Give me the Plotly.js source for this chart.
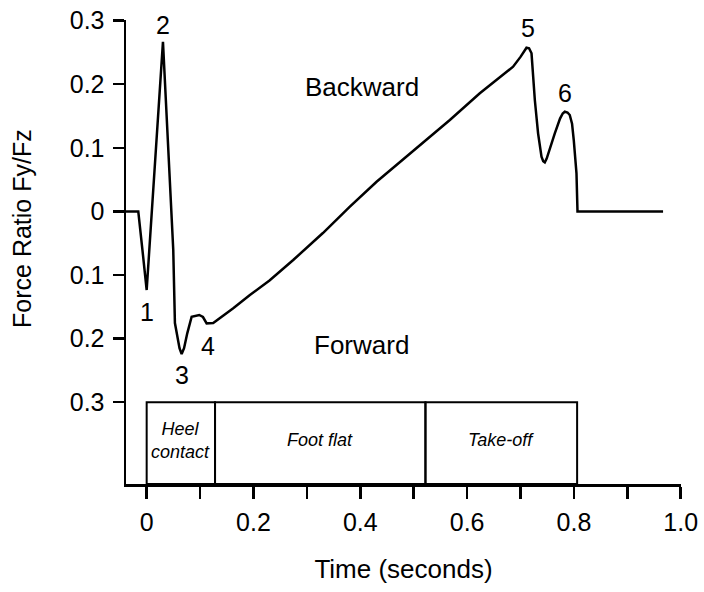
<!DOCTYPE html>
<html>
<head>
<meta charset="utf-8">
<script src="https://cdn.plot.ly/plotly-3.0.1.min.js"></script>
<style>html,body{margin:0;padding:0;background:#fff;}#chart{width:704px;height:592px;}</style>
</head>
<body>
<div id="chart"></div>
<script>
// Force ratio curve (time in s, Fy/Fz; positive = backward)
const timeS = [-0.039, -0.0157, -0.008, 0.0, 0.0305, 0.0498, 0.0529, 0.0573, 0.0615, 0.0655, 0.070, 0.076, 0.0842, 0.0984, 0.1054, 0.1123, 0.1246, 0.1621, 0.1933, 0.2300, 0.2744, 0.3300, 0.3805, 0.4305, 0.4866, 0.5677, 0.6238, 0.6861, 0.700, 0.7065, 0.7112, 0.716, 0.7206, 0.7268, 0.7329, 0.7393, 0.7425, 0.7455, 0.749, 0.7642, 0.774, 0.779, 0.7829, 0.788, 0.7922, 0.7965, 0.7997, 0.8048, 0.8067, 0.9669];
const forceRatio = [0.0, 0.0, -0.06, -0.1236, 0.2668, -0.0607, -0.1755, -0.197, -0.215, -0.2242, -0.215, -0.1917, -0.1656, -0.1629, -0.166, -0.176, -0.1755, -0.1524, -0.1314, -0.1085, -0.0764, -0.034, 0.0074, 0.0467, 0.086, 0.1437, 0.1857, 0.2275, 0.243, 0.2525, 0.2574, 0.2565, 0.2486, 0.1752, 0.1228, 0.086, 0.079, 0.0772, 0.083, 0.1228, 0.146, 0.154, 0.1568, 0.1555, 0.1516, 0.138, 0.1123, 0.0599, 0.0, 0.0];

// Numbered events
const eventLabels = ["1", "2", "3", "4", "5", "6"];
const eventTime = [0.0, 0.0305, 0.0655, 0.1153, 0.714, 0.783];
const eventRatio = [-0.158, 0.293, -0.257, -0.2116, 0.288, 0.1857];

// Gait phases
const phaseNames = ["Heel<br>contact", "Foot flat", "Take-off"];
const phaseStart = [0.0, 0.128, 0.522];
const phaseEnd = [0.128, 0.522, 0.806];

// Axis ticks
const yTickVals = [0.3, 0.2, 0.1, 0, -0.1, -0.2, -0.3];
const yTickText = ["0.3", "0.2", "0.1", "0", "0.1", "0.2", "0.3"];
const xTickVals = [0, 0.2, 0.4, 0.6, 0.8, 1.0];
const xTickText = ["0", "0.2", "0.4", "0.6", "0.8", "1.0"];

const FONT = "Liberation Sans, Arial, Helvetica, sans-serif";
const yMin = -0.4286, yMax = 0.301;
const xMin = -0.0387, xMax = 1.0005;

const shapes = phaseNames.map((n, i) => ({
  type: "rect", xref: "x", yref: "y",
  x0: phaseStart[i], x1: phaseEnd[i], y0: yMin, y1: -0.3,
  line: {color: "#000", width: 2}, fillcolor: "rgba(0,0,0,0)", layer: "above"
}));

const annotations = [];
eventLabels.forEach((l, i) => annotations.push({
  x: eventTime[i], y: eventRatio[i], xref: "x", yref: "y", text: l,
  showarrow: false, font: {family: FONT, size: 25, color: "#000"}
}));
phaseNames.forEach((n, i) => annotations.push({
  x: (phaseStart[i] + phaseEnd[i]) / 2, y: -0.36, xref: "x", yref: "y", text: "<i>" + n + "</i>",
  showarrow: false, font: {family: FONT, size: 18, color: "#000"}
}));
annotations.push({x: 0.403, y: 0.1956, xref: "x", yref: "y", text: "Backward", showarrow: false,
  font: {family: FONT, size: 26, color: "#000"}});
annotations.push({x: 0.403, y: -0.21, xref: "x", yref: "y", text: "Forward", showarrow: false,
  font: {family: FONT, size: 26, color: "#000"}});
annotations.push({x: -0.1874, y: -0.026, xref: "paper", yref: "y", text: "Force Ratio Fy/Fz", textangle: -90,
  xanchor: "center", yanchor: "middle",
  showarrow: false, font: {family: FONT, size: 25, color: "#000"}});

const trace = {
  x: timeS, y: forceRatio, type: "scatter", mode: "lines",
  line: {color: "#000", width: 2.5}, hoverinfo: "skip", showlegend: false
};

const layout = {
  width: 704, height: 592,
  margin: {l: 126, r: 23, t: 20, b: 108},
  paper_bgcolor: "#fff", plot_bgcolor: "#fff",
  showlegend: false,
  font: {family: FONT, color: "#000"},
  xaxis: {
    range: [xMin, xMax], showgrid: false, zeroline: false,
    showline: true, linecolor: "#000", linewidth: 2.5,
    ticks: "outside", ticklen: 12, tickwidth: 2.5, tickcolor: "#000",
    tickvals: xTickVals, ticktext: xTickText,
    minor: {dtick: 0.1, tick0: 0, ticks: "outside", ticklen: 12, tickwidth: 2.5, tickcolor: "#000", showgrid: false},
    tickfont: {family: FONT, size: 25, color: "#000"},
    ticklabelstandoff: 2,
    title: {text: "Time (seconds)", font: {family: FONT, size: 26, color: "#000"}, standoff: 26}
  },
  yaxis: {
    range: [yMin, yMax], showgrid: false, zeroline: false,
    showline: true, linecolor: "#000", linewidth: 2.5,
    ticks: "outside", ticklen: 11, tickwidth: 2.5, tickcolor: "#000",
    tickvals: yTickVals, ticktext: yTickText,
    tickfont: {family: FONT, size: 25, color: "#000"},
    ticklabelstandoff: 3
  },
  shapes: shapes,
  annotations: annotations
};

Plotly.newPlot("chart", [trace], layout, {displayModeBar: false, staticPlot: true});
</script>
</body>
</html>
